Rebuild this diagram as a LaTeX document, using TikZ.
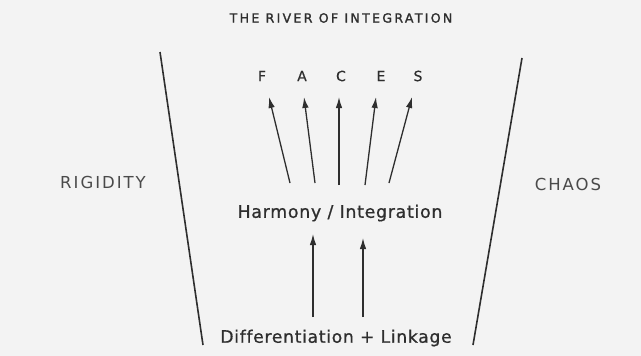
\documentclass[tikz,border=0pt]{standalone}
\usepackage{fontspec}
\setmainfont{DejaVu Sans}[Ligatures=NoCommon]
\usetikzlibrary{arrows.meta}
\definecolor{ink}{HTML}{2E2E2E}
\definecolor{softink}{HTML}{4A4A4A}
\definecolor{paper}{HTML}{F3F3F3}
\begin{document}
\begin{tikzpicture}[x=1pt,y=-1pt,
  lbl/.style={text=ink,inner sep=0pt,anchor=center},
  side/.style={text=softink,inner sep=0pt,anchor=center},
  bank/.style={draw=ink,line width=1.6pt},
  arr/.style={draw=ink,line width=1.3pt,-{Latex[length=11pt,width=6.5pt]}}]
\fill[paper] (0,0) rectangle (641,356);
\useasboundingbox (0,0) rectangle (641,356);
% title and side labels
\node[lbl,font=\fontsize{12.6}{14}\selectfont\addfontfeature{LetterSpace=18,FakeBold=1.5}] (title) at (341,18) {THE RIVER OF INTEGRATION};
\node[side,font=\fontsize{16.5}{18}\selectfont\addfontfeature{LetterSpace=12}] (rigidity) at (103,182) {RIGIDITY};
\node[side,font=\fontsize{16.5}{18}\selectfont\addfontfeature{LetterSpace=12}] (chaos) at (568,184) {CHAOS};
% FACES
\foreach \l/\x in {F/262,A/302,C/341,E/381,S/418}
  \node[lbl,font=\fontsize{14}{15}\selectfont\addfontfeature{FakeBold=0.5}] (\l) at (\x,76) {\l};
\node[lbl,font=\fontsize{17.4}{19}\selectfont\addfontfeature{LetterSpace=4,FakeBold=0.8}] (harmony) at (340,213) {Harmony / Integration};
\node[lbl,font=\fontsize{17.2}{19}\selectfont\addfontfeature{LetterSpace=4,FakeBold=0.8}] (diff) at (336,338) {Differentiation + Linkage};
% banks
\coordinate (l1) at (160,52); \coordinate (l2) at (203,345);
\coordinate (r1) at (522,58); \coordinate (r2) at (473,345);
\draw[bank] (l1) -- (l2);
\draw[bank] (r1) -- (r2);
% arrows to FACES
\coordinate (bF) at (290,183); \coordinate (tF) at (269,97);
\coordinate (bA) at (315,183); \coordinate (tA) at (304,97);
\coordinate (bC) at (339,185); \coordinate (tC) at (339,97);
\coordinate (bE) at (365,185); \coordinate (tE) at (376,97);
\coordinate (bS) at (389,183); \coordinate (tS) at (412,97);
\foreach \l in {F,A,C,E,S} \draw[arr] (b\l) -- (t\l);
% arrows to harmony
\coordinate (bH1) at (313,317); \coordinate (tH1) at (313,234);
\coordinate (bH2) at (363,317); \coordinate (tH2) at (363,238);
\draw[arr] (bH1) -- (tH1);
\draw[arr] (bH2) -- (tH2);
\end{tikzpicture}
\end{document}
